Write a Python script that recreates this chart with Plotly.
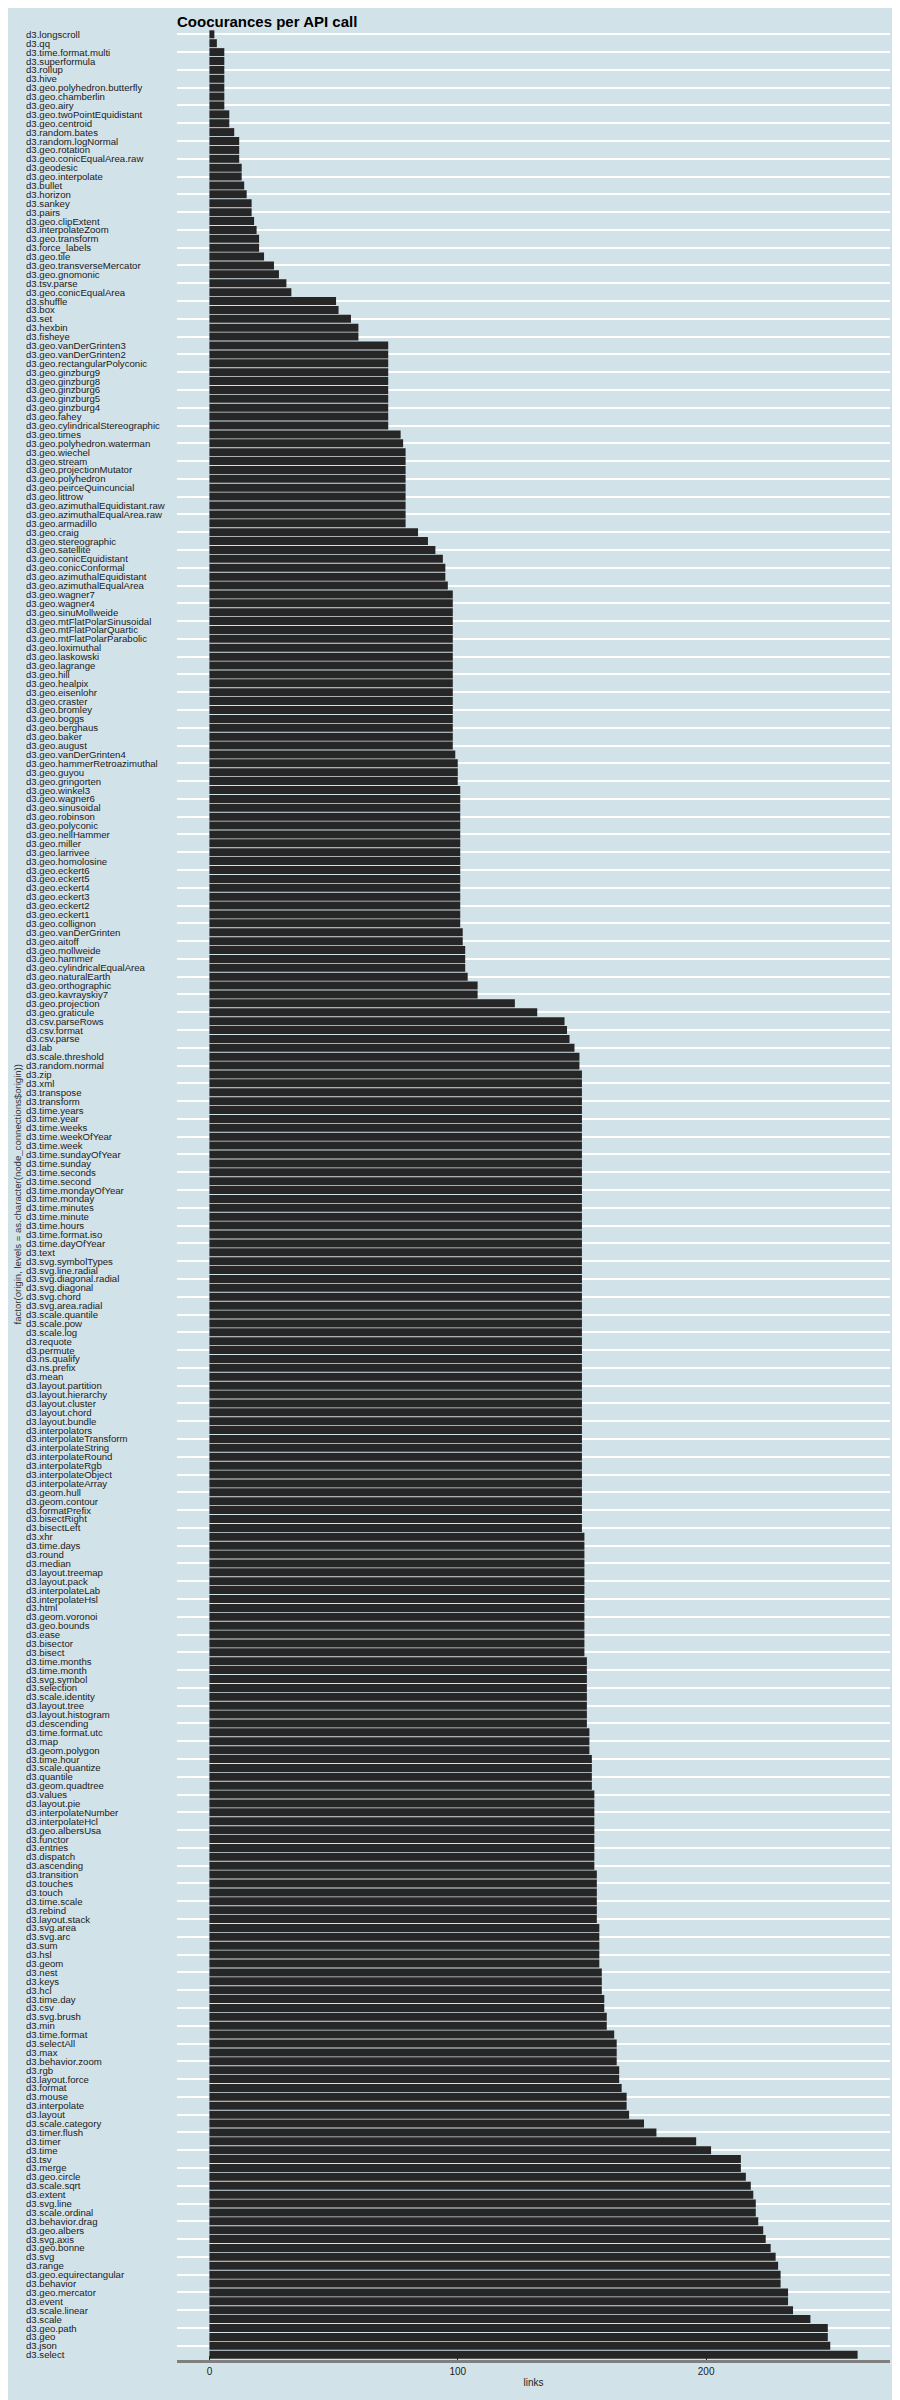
import plotly.graph_objects as go

# Categories from top to bottom of the chart
api_calls = [
    "d3.longscroll", "d3.qq", "d3.time.format.multi", "d3.superformula", "d3.rollup", "d3.hive",
    "d3.geo.polyhedron.butterfly", "d3.geo.chamberlin", "d3.geo.airy", "d3.geo.twoPointEquidistant",
    "d3.geo.centroid", "d3.random.bates", "d3.random.logNormal", "d3.geo.rotation",
    "d3.geo.conicEqualArea.raw", "d3.geodesic", "d3.geo.interpolate", "d3.bullet", "d3.horizon",
    "d3.sankey", "d3.pairs", "d3.geo.clipExtent", "d3.interpolateZoom", "d3.geo.transform",
    "d3.force_labels", "d3.geo.tile", "d3.geo.transverseMercator", "d3.geo.gnomonic", "d3.tsv.parse",
    "d3.geo.conicEqualArea", "d3.shuffle", "d3.box", "d3.set", "d3.hexbin", "d3.fisheye",
    "d3.geo.vanDerGrinten3", "d3.geo.vanDerGrinten2", "d3.geo.rectangularPolyconic", "d3.geo.ginzburg9",
    "d3.geo.ginzburg8", "d3.geo.ginzburg6", "d3.geo.ginzburg5", "d3.geo.ginzburg4", "d3.geo.fahey",
    "d3.geo.cylindricalStereographic", "d3.geo.times", "d3.geo.polyhedron.waterman", "d3.geo.wiechel",
    "d3.geo.stream", "d3.geo.projectionMutator", "d3.geo.polyhedron", "d3.geo.peirceQuincuncial",
    "d3.geo.littrow", "d3.geo.azimuthalEquidistant.raw", "d3.geo.azimuthalEqualArea.raw",
    "d3.geo.armadillo", "d3.geo.craig", "d3.geo.stereographic", "d3.geo.satellite",
    "d3.geo.conicEquidistant", "d3.geo.conicConformal", "d3.geo.azimuthalEquidistant",
    "d3.geo.azimuthalEqualArea", "d3.geo.wagner7", "d3.geo.wagner4", "d3.geo.sinuMollweide",
    "d3.geo.mtFlatPolarSinusoidal", "d3.geo.mtFlatPolarQuartic", "d3.geo.mtFlatPolarParabolic",
    "d3.geo.loximuthal", "d3.geo.laskowski", "d3.geo.lagrange", "d3.geo.hill", "d3.geo.healpix",
    "d3.geo.eisenlohr", "d3.geo.craster", "d3.geo.bromley", "d3.geo.boggs", "d3.geo.berghaus",
    "d3.geo.baker", "d3.geo.august", "d3.geo.vanDerGrinten4", "d3.geo.hammerRetroazimuthal",
    "d3.geo.guyou", "d3.geo.gringorten", "d3.geo.winkel3", "d3.geo.wagner6", "d3.geo.sinusoidal",
    "d3.geo.robinson", "d3.geo.polyconic", "d3.geo.nellHammer", "d3.geo.miller", "d3.geo.larrivee",
    "d3.geo.homolosine", "d3.geo.eckert6", "d3.geo.eckert5", "d3.geo.eckert4", "d3.geo.eckert3",
    "d3.geo.eckert2", "d3.geo.eckert1", "d3.geo.collignon", "d3.geo.vanDerGrinten", "d3.geo.aitoff",
    "d3.geo.mollweide", "d3.geo.hammer", "d3.geo.cylindricalEqualArea", "d3.geo.naturalEarth",
    "d3.geo.orthographic", "d3.geo.kavrayskiy7", "d3.geo.projection", "d3.geo.graticule",
    "d3.csv.parseRows", "d3.csv.format", "d3.csv.parse", "d3.lab", "d3.scale.threshold",
    "d3.random.normal", "d3.zip", "d3.xml", "d3.transpose", "d3.transform", "d3.time.years",
    "d3.time.year", "d3.time.weeks", "d3.time.weekOfYear", "d3.time.week", "d3.time.sundayOfYear",
    "d3.time.sunday", "d3.time.seconds", "d3.time.second", "d3.time.mondayOfYear", "d3.time.monday",
    "d3.time.minutes", "d3.time.minute", "d3.time.hours", "d3.time.format.iso", "d3.time.dayOfYear",
    "d3.text", "d3.svg.symbolTypes", "d3.svg.line.radial", "d3.svg.diagonal.radial", "d3.svg.diagonal",
    "d3.svg.chord", "d3.svg.area.radial", "d3.scale.quantile", "d3.scale.pow", "d3.scale.log",
    "d3.requote", "d3.permute", "d3.ns.qualify", "d3.ns.prefix", "d3.mean", "d3.layout.partition",
    "d3.layout.hierarchy", "d3.layout.cluster", "d3.layout.chord", "d3.layout.bundle",
    "d3.interpolators", "d3.interpolateTransform", "d3.interpolateString", "d3.interpolateRound",
    "d3.interpolateRgb", "d3.interpolateObject", "d3.interpolateArray", "d3.geom.hull",
    "d3.geom.contour", "d3.formatPrefix", "d3.bisectRight", "d3.bisectLeft", "d3.xhr", "d3.time.days",
    "d3.round", "d3.median", "d3.layout.treemap", "d3.layout.pack", "d3.interpolateLab",
    "d3.interpolateHsl", "d3.html", "d3.geom.voronoi", "d3.geo.bounds", "d3.ease", "d3.bisector",
    "d3.bisect", "d3.time.months", "d3.time.month", "d3.svg.symbol", "d3.selection",
    "d3.scale.identity", "d3.layout.tree", "d3.layout.histogram", "d3.descending",
    "d3.time.format.utc", "d3.map", "d3.geom.polygon", "d3.time.hour", "d3.scale.quantize",
    "d3.quantile", "d3.geom.quadtree", "d3.values", "d3.layout.pie", "d3.interpolateNumber",
    "d3.interpolateHcl", "d3.geo.albersUsa", "d3.functor", "d3.entries", "d3.dispatch",
    "d3.ascending", "d3.transition", "d3.touches", "d3.touch", "d3.time.scale", "d3.rebind",
    "d3.layout.stack", "d3.svg.area", "d3.svg.arc", "d3.sum", "d3.hsl", "d3.geom", "d3.nest",
    "d3.keys", "d3.hcl", "d3.time.day", "d3.csv", "d3.svg.brush", "d3.min", "d3.time.format",
    "d3.selectAll", "d3.max", "d3.behavior.zoom", "d3.rgb", "d3.layout.force", "d3.format",
    "d3.mouse", "d3.interpolate", "d3.layout", "d3.scale.category", "d3.timer.flush", "d3.timer",
    "d3.time", "d3.tsv", "d3.merge", "d3.geo.circle", "d3.scale.sqrt", "d3.extent", "d3.svg.line",
    "d3.scale.ordinal", "d3.behavior.drag", "d3.geo.albers", "d3.svg.axis", "d3.geo.bonne",
    "d3.svg", "d3.range", "d3.geo.equirectangular", "d3.behavior", "d3.geo.mercator", "d3.event",
    "d3.scale.linear", "d3.scale", "d3.geo.path", "d3.geo", "d3.json", "d3.select",
]

links = (
    [2, 3, 6, 6, 6, 6, 6, 6, 6, 8, 8, 10, 12, 12, 12, 13, 13, 14, 15,
     17, 17, 18, 19, 20, 20, 22, 26, 28, 31, 33, 51, 52, 57, 60, 60]
    + [72] * 10
    + [77, 78]
    + [79] * 9
    + [84, 88, 91, 94, 95, 95, 96]
    + [98] * 18
    + [99, 100, 100, 100]
    + [101] * 16
    + [102, 102, 103, 103, 103, 104, 108, 108, 123, 132,
       143, 144, 145, 147, 149, 149]
    + [150] * 52
    + [151] * 14
    + [152] * 8
    + [153] * 3
    + [154] * 4
    + [155] * 9
    + [156] * 6
    + [157] * 5
    + [158] * 3
    + [159, 159, 160, 160, 163, 164, 164, 164, 165, 165, 166, 168, 168, 169,
       175, 180, 196, 202, 214, 214, 216, 218, 219, 220, 220, 221, 223, 224,
       226, 228, 229, 230, 230, 233, 233, 235, 242, 249, 249, 250, 261]
)

assert len(api_calls) == len(links), (len(api_calls), len(links))

BG = "#d2e2e9"
FONT = "Liberation Sans, Arial, Helvetica, sans-serif"

# the page body adds an 8px offset; layout positions below compensate for it
OFF = 8

fig = go.Figure(
    go.Bar(
        x=links,
        y=api_calls,
        orientation="h",
        width=0.9,
        marker=dict(color="#262626", line=dict(width=0)),
        hoverinfo="x+y",
    )
)

n = len(api_calls)

# left-aligned category labels
for name in api_calls:
    fig.add_annotation(
        x=-0.2146, xref="paper", y=name, yref="y",
        text=name, showarrow=False, xanchor="left", yanchor="middle",
        font=dict(family=FONT, size=9.6, color="#1a1a1a"),
    )

fig.add_annotation(
    x=-0.2244, xref="paper", y=0.5, yref="paper",
    text="factor(origin, levels = as.character(node_connections$origin))",
    textangle=-90, showarrow=False, xanchor="center", yanchor="middle",
    font=dict(family=FONT, size=9.6, color="#333333"),
)

fig.update_layout(
    template="none",
    width=900, height=2400, autosize=False,
    margin=dict(l=177 - OFF, r=10 + OFF, t=29 - OFF, b=40 + OFF, pad=0, autoexpand=False),
    paper_bgcolor=BG, plot_bgcolor=BG,
    showlegend=False,
    bargap=0.1,
    title=dict(
        text="<b>Coocurances per API call</b>",
        x=(177 - OFF) / 900, xanchor="left", xref="container",
        y=1 - (22 - OFF) / 2400, yanchor="middle", yref="container",
        font=dict(family=FONT, size=15, color="#000000"),
        automargin=False,
    ),
    xaxis=dict(
        automargin=False,
        range=[-13.05, 274.05],
        tickvals=[0, 100, 200], ticktext=["0", "100", "200"],
        ticks="inside", ticklen=4, tickwidth=1, tickcolor="#222222",
        showline=True, linecolor="#7f7f7f", linewidth=2.5,
        showgrid=False, zeroline=False,
        tickfont=dict(family=FONT, size=10, color="#222222"),
        title=dict(text="links", font=dict(family=FONT, size=10, color="#222222"), standoff=4),
    ),
    yaxis=dict(
        automargin=False,
        type="category",
        categoryorder="array", categoryarray=api_calls,
        range=[n - 1 + 0.6, -0.6],
        showticklabels=False, ticks="",
        showgrid=True, gridcolor="#ffffff", gridwidth=1.6,
        zeroline=False, showline=False,
    ),
)

fig.write_html("out.html")
